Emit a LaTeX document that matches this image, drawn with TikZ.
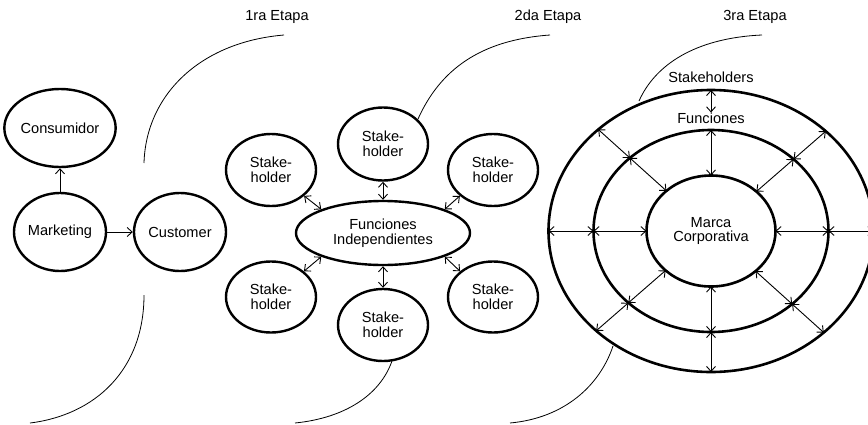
\documentclass[tikz,border=0pt]{standalone}
\usepackage{fontspec}
\setmainfont{Liberation Sans}
\usetikzlibrary{shapes.geometric,arrows.meta}
\begin{document}
\begin{tikzpicture}[x=1pt,y=-1pt,
  font=\fontsize{14.6}{14.6}\selectfont,
  bub/.style={ellipse,draw,line width=2.4pt,fill=white,inner sep=0pt,align=center},
  ring/.style={ellipse,draw,line width=2.6pt,inner sep=0pt,outer sep=0pt},
  tipx/.tip={Straight Barb[length=5pt,width=9pt]},
  conn/.style={line width=0.9pt,-tipx},
  biconn/.style={line width=0.9pt,tipx-tipx},
  arcline/.style={line width=0.8pt},
  lab/.style={inner sep=0pt}]
\useasboundingbox (0,0) rectangle (868,424);

% stage labels
\node[lab] (e1) at (277,17) {1ra Etapa};
\node[lab] (e2) at (548,17) {2da Etapa};
\node[lab] (e3) at (755,17) {3ra Etapa};

% stage 1
\node[bub,minimum width=92pt,minimum height=78pt] (cons) at (60,128) {Consumidor};
\node[bub,minimum width=92pt,minimum height=78pt] (mkt) at (60,232) {Marketing};
\node[bub,minimum width=92pt,minimum height=78pt] (cust) at (180,232) {Customer};
\draw[conn] (mkt) -- (cons);
\draw[conn] (mkt) -- (cust);

% stage 2
\node[bub,minimum width=174pt,minimum height=64pt] (fun) at (383,233) {Funciones\\Independientes};
\node[bub,minimum width=90pt,minimum height=73pt] (sT) at (383,144) {Stake-\\holder};
\node[bub,minimum width=90pt,minimum height=72pt] (sUL) at (271,170) {Stake-\\holder};
\node[bub,minimum width=90pt,minimum height=72pt] (sUR) at (493,170) {Stake-\\holder};
\node[bub,minimum width=90pt,minimum height=71pt] (sLL) at (271,297) {Stake-\\holder};
\node[bub,minimum width=90pt,minimum height=71pt] (sLR) at (493,297) {Stake-\\holder};
\node[bub,minimum width=90pt,minimum height=72pt] (sB) at (383,325) {Stake-\\holder};
\draw[biconn] (fun.north) -- (sT.south);
\draw[biconn] (fun.south) -- (sB.north);
\draw[biconn] (fun.159) -- (sUL.-38);
\draw[biconn] (fun.21) -- (sUR.218);
\draw[biconn] (fun.201) -- (sLL.38);
\draw[biconn] (fun.-21) -- (sLR.142);

% stage 3
\node[ring,minimum width=325pt,minimum height=282pt] (outer) at (711,231) {};
\node[ring,minimum width=235pt,minimum height=202pt] (mid) at (711,231) {};
\node[ring,minimum width=129pt,minimum height=111pt,align=center] (inner) at (711,231) {Marca\\Corporativa};
\node[lab] (stk) at (711,77) {Stakeholders};
\node[lab] (fl) at (711,118) {Funciones};
\draw[biconn] (outer.north) -- (fl.north);
\draw[biconn] (mid.north) -- (inner.north);
\draw[biconn] (outer.south) -- (mid.south);
\draw[biconn] (mid.south) -- (inner.south);
\draw[biconn] (outer.west) -- (mid.west);
\draw[biconn] (mid.west) -- (inner.west);
\draw[biconn] (outer.east) -- (mid.east);
\draw[biconn] (mid.east) -- (inner.east);
\foreach \a in {41.5,138.5,221.5,318.5}{
  \draw[biconn] (outer.\a) -- (mid.\a);
  \draw[biconn] (mid.\a) -- (inner.\a);
}

% stage arcs
\draw[arcline] (144,163) .. controls (146,95) and (200,42) .. (284,35);
\draw[arcline] (144,295) .. controls (144,370) and (95,415) .. (30,423);
\draw[arcline] (418,119) .. controls (440,70) and (480,40) .. (550,35);
\draw[arcline] (392,361) .. controls (380,395) and (345,418) .. (295,423);
\draw[arcline] (639,101) .. controls (655,65) and (695,38) .. (762,35);
\draw[arcline] (613,346) .. controls (600,385) and (565,418) .. (510,423);
\end{tikzpicture}
\end{document}
